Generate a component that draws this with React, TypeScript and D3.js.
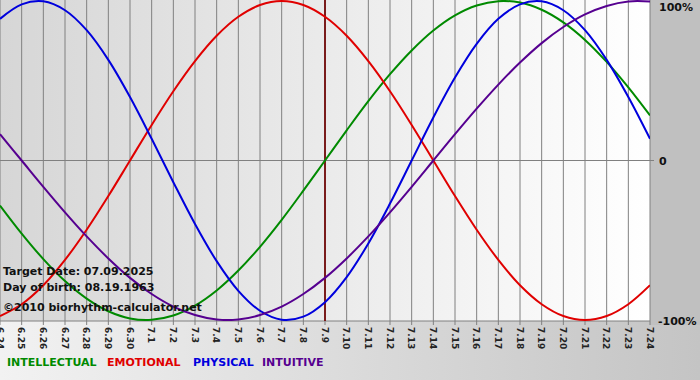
import React from "react";
import * as d3 from "d3";

const days = ["6.24","6.25","6.26","6.27","6.28","6.29","6.30","7.1","7.2","7.3","7.4","7.5","7.6","7.7","7.8","7.9","7.10","7.11","7.12","7.13","7.14","7.15","7.16","7.17","7.18","7.19","7.20","7.21","7.22","7.23","7.24"];
const physical = [0.888,0.979,0.998,0.942,0.817,0.631,0.398,0.136,-0.136,-0.398,-0.631,-0.817,-0.942,-0.998,-0.979,-0.888,-0.731,-0.520,-0.270,0,0.270,0.520,0.731,0.888,0.979,0.998,0.942,0.817,0.631,0.398,0.136];
const emotional = [-0.975,-0.901,-0.782,-0.623,-0.434,-0.223,0,0.223,0.434,0.623,0.782,0.901,0.975,1,0.975,0.901,0.782,0.623,0.434,0.223,0,-0.223,-0.434,-0.623,-0.782,-0.901,-0.975,-1,-0.975,-0.901,-0.782];
const intellectual = [-0.282,-0.458,-0.618,-0.756,-0.866,-0.945,-0.990,-0.999,-0.972,-0.910,-0.815,-0.690,-0.541,-0.372,-0.189,0,0.189,0.372,0.541,0.690,0.815,0.910,0.972,0.999,0.990,0.945,0.866,0.756,0.618,0.458,0.282];
const intuitive = [0.165,0,-0.165,-0.325,-0.476,-0.614,-0.736,-0.837,-0.916,-0.969,-0.997,-0.997,-0.969,-0.916,-0.837,-0.736,-0.614,-0.476,-0.325,-0.165,0,0.165,0.325,0.476,0.614,0.736,0.837,0.916,0.969,0.997,0.997];
const targetDay = "7.9";
const yTicks = [{ v: 1, label: "100%" }, { v: 0, label: "0" }, { v: -1, label: "-100%" }];
const infoLines = ["Target Date: 07.09.2025", "Day of birth: 08.19.1963", "©2010 biorhythm-calculator.net"];
const legend = [
  { name: "INTELLECTUAL", color: "#008a00" },
  { name: "EMOTIONAL", color: "#e00000" },
  { name: "PHYSICAL", color: "#0000dd" },
  { name: "INTUITIVE", color: "#560090" },
];
const series = [
  { data: intellectual, color: "#008a00" },
  { data: emotional, color: "#e00000" },
  { data: physical, color: "#0000dd" },
  { data: intuitive, color: "#560090" },
];

export default function App() {
  const W = 700, H = 380;
  const left = 0, right = 650, top = 0, bottom = 321;
  const x = d3.scalePoint<string>().domain(days).range([left, right]);
  const y = d3.scaleLinear().domain([-1, 1]).range([320, 1]);
  const font = "Verdana, 'DejaVu Sans', sans-serif";
  const line = (data: number[]) =>
    d3.line<number>().x((_, i) => x(days[i]) as number).y((d) => y(d)).curve(d3.curveCatmullRom)(data) || "";
  const legendX = [7, 107, 193, 262];
  return (
    <svg width={W} height={H} style={{ position: "fixed", left: 0, top: 0 }} fontFamily={font}>
      <defs>
        <linearGradient id="plotbg" x1="0" x2="1" y1="0" y2="0">
          <stop offset="0" stopColor="#d6d6d6" />
          <stop offset="1" stopColor="#ffffff" />
        </linearGradient>
        <linearGradient id="outbg" x1="0" x2="1" y1="0" y2="0">
          <stop offset="0" stopColor="#f2f2f2" />
          <stop offset="1" stopColor="#c4c4c4" />
        </linearGradient>
        <clipPath id="clip">
          <rect x={left} y={top} width={right - left} height={bottom - top} />
        </clipPath>
      </defs>
      <rect x={0} y={0} width={W} height={H} fill="url(#outbg)" />
      <rect x={right} y={0} width={W - right} height={bottom + 4} fill="#c0c0c0" />
      <rect x={left} y={top} width={right - left} height={bottom - top} fill="url(#plotbg)" />
      {days.map((d) => (
        <g key={d}>
          <line x1={x(d)} x2={x(d)} y1={top} y2={bottom + 4} stroke="#808080" strokeWidth={1} />
          <text
            transform={`translate(${(x(d) as number) - 3.5},${bottom + 6}) rotate(90)`}
            fontSize={9}
            fontWeight="bold"
            fill="#222"
          >
            {d}
          </text>
        </g>
      ))}
      <line x1={left} x2={right + 4} y1={y(0)} y2={y(0)} stroke="#808080" strokeWidth={1} />
      <line x1={left} x2={right} y1={bottom} y2={bottom} stroke="#808080" strokeWidth={1} />
      {yTicks.map((t) => (
        <text key={t.label} x={t.v === -1 ? 658 : 659} y={t.v === 1 ? 7 : t.v === 0 ? 161 : 321} dy="0.35em" fontSize={11} fontWeight="bold" fill="#111">
          {t.label}
        </text>
      ))}
      <line x1={x(targetDay)} x2={x(targetDay)} y1={top} y2={bottom} stroke="#7a1c1c" strokeWidth={2} />
      <g clipPath="url(#clip)">
        {series.map((s, i) => (
          <path key={i} d={line(s.data)} fill="none" stroke={s.color} strokeWidth={2} />
        ))}
      </g>
      {infoLines.map((t, i) => (
        <text key={t} x={3} y={[275, 291, 311][i]} fontSize={11} fontWeight="bold" fill="#111">
          {t}
        </text>
      ))}
      {legend.map((l, i) => (
        <text key={l.name} x={legendX[i]} y={366} fontSize={11} fontWeight="bold" fill={l.color}>
          {l.name}
        </text>
      ))}
    </svg>
  );
}
